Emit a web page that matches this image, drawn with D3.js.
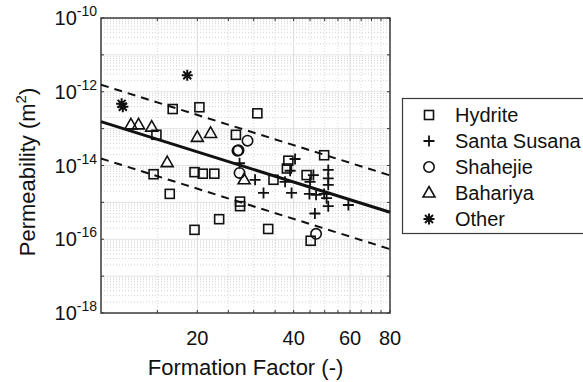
<!DOCTYPE html>
<html>
<head>
<meta charset="utf-8">
<script src="https://cdn.jsdelivr.net/npm/d3@7"></script>
<style>
  body { margin: 0; background: #fff; }
  text { font-family: "Liberation Sans", Arial, sans-serif; fill: #111; }
</style>
</head>
<body>
<div id="chart"></div>
<script>
// formation factor (-) and permeability (m^2) per group
const hydriteF = [16.75, 20.3, 30.8, 14.9, 26.4, 38.5, 38.1, 49.8, 14.6, 19.6, 20.8, 22.6, 43.9, 34.6, 16.4, 27.2, 27.2, 23.4, 19.6, 33.3, 45.2];
const hydriteK = [3.4e-13, 3.8e-13, 2.6e-13, 6.8e-14, 6.8e-14, 1.35e-14, 8.3e-15, 1.9e-14, 5.8e-15, 6.6e-15, 6.0e-15, 6.0e-15, 5.5e-15, 4.1e-15, 1.7e-15, 1.05e-15, 7.9e-16, 3.5e-16, 1.8e-16, 1.9e-16, 9.1e-17];

const santaSusanaF = [27.1, 30.3, 40.4, 39.0, 46.1, 51.3, 51.3, 37.6, 45.0, 51.3, 32.2, 39.4, 44.8, 47.0, 49.8, 50.7, 51.3, 59.3, 46.6];
const santaSusanaK = [1.15e-14, 4.1e-15, 1.5e-14, 7.2e-15, 5.5e-15, 7.6e-15, 4.5e-15, 3.6e-15, 3.6e-15, 3.0e-15, 1.8e-15, 1.8e-15, 1.7e-15, 1.6e-15, 1.7e-15, 1.3e-15, 7.9e-16, 8.5e-16, 5.0e-16];

const shahejieF = [28.7, 26.7, 26.9, 27.1, 47.0];
const shahejieK = [4.7e-14, 2.5e-14, 2.6e-14, 6.3e-15, 1.4e-16];

const bahariyaF = [12.4, 13.1, 14.4, 20.0, 22.0, 16.1, 28.0];
const bahariyaK = [1.26e-13, 1.26e-13, 1.1e-13, 5.8e-14, 7.4e-14, 1.2e-14, 4.1e-15];

const otherF = [18.6, 11.7, 11.6];
const otherK = [2.8e-12, 3.9e-13, 4.7e-13];

// fitted trend and +/- one decade band
const fitF = [10, 80];
const fitK = [1.55e-13, 5.4e-16];
const upperK = [1.55e-12, 5.4e-15];
const lowerK = [1.55e-14, 5.4e-17];

const xTicks = [15, 20, 25, 30, 35, 40, 45, 50, 55, 60, 65, 70, 75, 80];
const xLabels = [20, 40, 60, 80];
const yLabelExps = [-18, -16, -14, -12, -10];

const groups = [
  {name: 'Hydrite', shape: 'square', F: hydriteF, K: hydriteK},
  {name: 'Santa Susana', shape: 'plus', F: santaSusanaF, K: santaSusanaK},
  {name: 'Shahejie', shape: 'circle', F: shahejieF, K: shahejieK},
  {name: 'Bahariya', shape: 'triangle', F: bahariyaF, K: bahariyaK},
  {name: 'Other', shape: 'star', F: otherF, K: otherK}
];

const W = 583, H = 382;
const plot = {left: 101, right: 390, top: 18, bottom: 313};

const svg = d3.select('#chart').append('svg')
  .attr('width', W)
  .attr('height', H);

const x = d3.scaleLog().domain([10, 80]).range([plot.left, plot.right]);
const y = d3.scaleLog().domain([1e-18, 1e-10]).range([plot.bottom, plot.top]);

// grid
const grid = svg.append('g');
const minorY = [];
for (let e = -18; e < -10; e++) {
  for (let d = 2; d <= 9; d++) minorY.push(d * Math.pow(10, e));
}
grid.selectAll('.gy-minor').data(minorY).join('line')
  .attr('x1', plot.left).attr('x2', plot.right)
  .attr('y1', d => y(d)).attr('y2', d => y(d))
  .attr('stroke', '#c8c8c8').attr('stroke-width', 0.8)
  .attr('stroke-dasharray', '1,2');
grid.selectAll('.gy-major').data(d3.range(-17, -10)).join('line')
  .attr('x1', plot.left).attr('x2', plot.right)
  .attr('y1', d => y(Math.pow(10, d))).attr('y2', d => y(Math.pow(10, d)))
  .attr('stroke', '#dcdcdc').attr('stroke-width', 0.8);
grid.selectAll('.gx').data(xTicks.slice(0, -1)).join('line')
  .attr('x1', d => x(d)).attr('x2', d => x(d))
  .attr('y1', plot.top).attr('y2', plot.bottom)
  .attr('stroke', d => xLabels.includes(d) ? '#d6d6d6' : '#cfcfcf')
  .attr('stroke-width', 0.8)
  .attr('stroke-dasharray', d => xLabels.includes(d) ? null : '1,2');

// ticks on all four sides
const ticks = svg.append('g').attr('stroke', '#333').attr('stroke-width', 1);
xTicks.forEach(t => {
  ticks.append('line').attr('x1', x(t)).attr('x2', x(t)).attr('y1', plot.bottom).attr('y2', plot.bottom - 3);
  ticks.append('line').attr('x1', x(t)).attr('x2', x(t)).attr('y1', plot.top).attr('y2', plot.top + 3);
});
d3.range(-18, -9).forEach(e => {
  const yy = y(Math.pow(10, e));
  ticks.append('line').attr('x1', plot.left).attr('x2', plot.left + 3).attr('y1', yy).attr('y2', yy);
  ticks.append('line').attr('x1', plot.right).attr('x2', plot.right - 3).attr('y1', yy).attr('y2', yy);
});

svg.append('rect')
  .attr('x', plot.left).attr('y', plot.top)
  .attr('width', plot.right - plot.left).attr('height', plot.bottom - plot.top)
  .attr('fill', 'none').attr('stroke', '#3a3a3a').attr('stroke-width', 1.5);

// tick labels
svg.append('g').selectAll('text').data(xLabels).join('text')
  .attr('x', d => x(d)).attr('y', 345)
  .attr('text-anchor', 'middle')
  .attr('font-size', 20)
  .text(d => d);

const yl = svg.append('g').selectAll('text').data(yLabelExps).join('text')
  .attr('x', 97).attr('y', d => y(Math.pow(10, d)) + 7)
  .attr('text-anchor', 'end')
  .attr('font-size', 20);
yl.append('tspan').text('10');
yl.append('tspan').attr('dy', -9).attr('font-size', 14).text(d => String(d));

// axis titles
svg.append('text')
  .attr('x', (plot.left + plot.right) / 2).attr('y', 375)
  .attr('text-anchor', 'middle')
  .attr('font-size', 22)
  .text('Formation Factor (-)');

const ytitle = svg.append('text')
  .attr('transform', 'translate(35,172) rotate(-90)')
  .attr('text-anchor', 'middle')
  .attr('font-size', 22);
ytitle.append('tspan').text('Permeability (m');
ytitle.append('tspan').attr('dy', -9).attr('font-size', 15).text('2');
ytitle.append('tspan').attr('dy', 9).text(')');

// markers
function marker(sel, shape) {
  sel.attr('fill', 'none').attr('stroke', '#111');
  if (shape === 'square') {
    sel.append('rect').attr('x', -4.5).attr('y', -4.5).attr('width', 9).attr('height', 9).attr('stroke-width', 1.6);
  } else if (shape === 'plus') {
    sel.append('path').attr('d', 'M-5.5,0H5.5M0,-5.5V5.5').attr('stroke-width', 1.8);
  } else if (shape === 'circle') {
    sel.append('circle').attr('r', 5.2).attr('stroke-width', 1.6);
  } else if (shape === 'triangle') {
    sel.append('path').attr('d', 'M0,-6.5L6,4L-6,4Z').attr('stroke-width', 1.6);
  } else if (shape === 'star') {
    sel.append('path').attr('d', 'M-5.5,0H5.5M0,-5.5V5.5M-4,-4L4,4M-4,4L4,-4').attr('stroke-width', 2);
  }
}

const pts = svg.append('g');
groups.forEach(g => {
  g.F.forEach((f, i) => {
    const m = pts.append('g').attr('transform', `translate(${x(f)},${y(g.K[i])})`);
    marker(m, g.shape);
  });
});

// fit lines
const line = d3.line().x(d => x(d[0])).y(d => y(d[1]));
svg.append('path')
  .attr('d', line(fitF.map((f, i) => [f, fitK[i]])))
  .attr('fill', 'none').attr('stroke', '#111').attr('stroke-width', 3);
[upperK, lowerK].forEach(ks => {
  svg.append('path')
    .attr('d', line(fitF.map((f, i) => [f, ks[i]])))
    .attr('fill', 'none').attr('stroke', '#111').attr('stroke-width', 2)
    .attr('stroke-dasharray', '8,6');
});

// legend
const leg = svg.append('g');
leg.append('rect')
  .attr('x', 402.5).attr('y', 98.5).attr('width', 190).attr('height', 135)
  .attr('fill', '#fff').attr('stroke', '#3a3a3a').attr('stroke-width', 1.2);
const rowY = [115, 141, 167, 193, 219];
groups.forEach((g, i) => {
  const m = leg.append('g').attr('transform', `translate(429,${rowY[i]})`);
  marker(m, g.shape);
  leg.append('text').attr('x', 455).attr('y', rowY[i] + 7).attr('font-size', 20).text(g.name);
});
</script>
</body>
</html>
